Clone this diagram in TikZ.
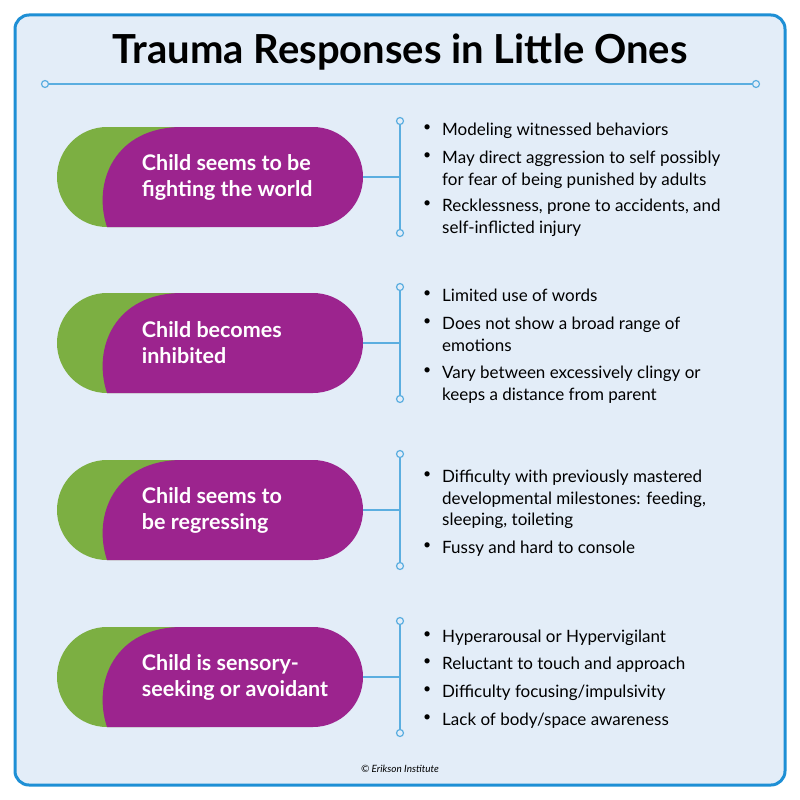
\documentclass[tikz,border=0pt]{standalone}
\usepackage{fontspec}
\setmainfont{Lato}
\usetikzlibrary{positioning,calc}
\definecolor{pillpurple}{HTML}{9C248E}
\definecolor{pillgreen}{HTML}{7CAF42}
\definecolor{linkblue}{HTML}{5BAEE0}
\definecolor{framebg}{HTML}{E3EDF8}
\definecolor{frameblue}{HTML}{1E8FD5}
\tikzset{
  pilltext/.style={text=white, font=\fontsize{21.5}{26}\selectfont\bfseries, align=left, anchor=west, inner sep=0pt},
  bullet/.style={font=\fontsize{17}{21.5}\selectfont, align=left, anchor=north west, inner sep=0pt},
  dot/.style={circle, draw=linkblue, fill=framebg, line width=1.2pt, minimum size=7pt, inner sep=0pt},
  link/.style={draw=linkblue, line width=1.5pt}
}
\newcommand{\pill}[2]{%
  \fill[pillgreen] (200,#1-50) -- (107,#1-50) arc[start angle=270, end angle=90, radius=50] -- (200,#1+50) -- cycle;
  \fill[pillpurple] (107,#1+50) .. controls (92,#1+5) and (115,#1-50) .. (182,#1-50)
    -- (313,#1-50) arc[start angle=270, end angle=450, radius=50] -- cycle;
  \node[pilltext] (#2) at (141,#1) {};
  \coordinate (#2-out) at (363,#1);
  \coordinate (#2-mid) at (400,#1);
  \node[dot] (#2-top) at (400,#1-56) {};
  \node[dot] (#2-bot) at (400,#1+56) {};
  \draw[link] (#2-out) -- (#2-mid);
  \draw[link] (#2-top) -- (#2-bot);
}
\begin{document}
\begin{tikzpicture}[x=1pt, y=-1pt]
	\useasboundingbox (0,0) rectangle (800,800);
	\fill[white] (0,0) rectangle (800,800);
	\draw[frameblue, fill=framebg, line width=3pt, rounded corners=14pt] (15,15) rectangle (785,785);

	% title
	\node[font=\fontsize{40}{46}\selectfont\bfseries] (title) at (400,52) {Trauma Responses in Little Ones};
	\node[dot] (tl) at (45,84) {};
	\node[dot] (tr) at (756,84) {};
	\draw[link] (tl) -- (tr);

	% rows
	\pill{177}{fight}
	\pill{343}{inhib}
	\pill{510}{regress}
	\pill{677}{sensory}

	\node[pilltext] at (fight)   {Child seems to be\\fighting the world};
	\node[pilltext] at (inhib)   {Child becomes\\inhibited};
	\node[pilltext] at (regress) {Child seems to\\be regressing};
	\node[pilltext] at (sensory) {Child is sensory-\\seeking or avoidant};

	% bullets
	\foreach \y/\txt in {
		123/{Modeling witnessed behaviors},
		151/{May direct aggression to self possibly\\for fear of being punished by adults},
		199/{Recklessness, prone to accidents, and\\self-inflicted injury},
		289/{Limited use of words},
		317/{Does not show a broad range of\\emotions},
		366/{Vary between excessively clingy or\\keeps a distance from parent},
		470/{Difficulty with previously mastered\\developmental milestones: feeding,\\sleeping, toileting},
		541/{Fussy and hard to console},
		630/{Hyperarousal or Hypervigilant},
		657/{Reluctant to touch and approach},
		685/{Difficulty focusing/impulsivity},
		713/{Lack of body/space awareness}}
	{
		\node[bullet, font=\fontsize{14}{21.5}\selectfont] at (423,\y+2) {\textbullet};
		\node[bullet] at (442,\y) {\txt};
	}

	\node[font=\fontsize{10}{12}\selectfont\itshape] (credit) at (400,769) {\textcopyright\ Erikson Institute};
\end{tikzpicture}
\end{document}
